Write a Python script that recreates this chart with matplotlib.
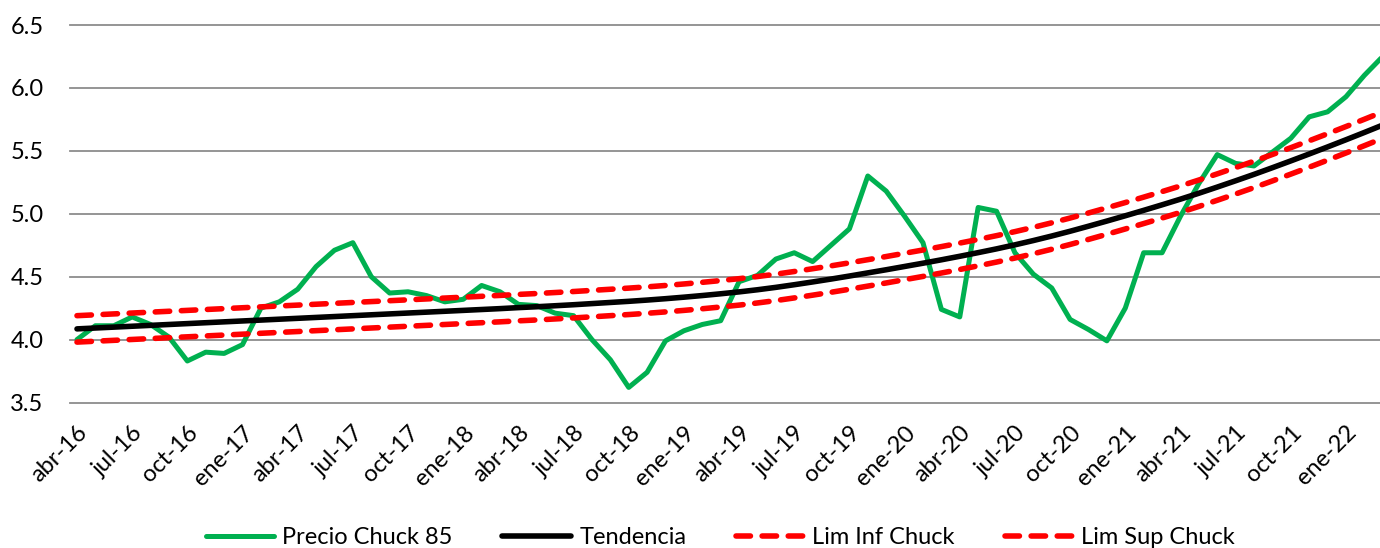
import matplotlib
matplotlib.use('Agg')
import matplotlib.pyplot as plt
from matplotlib.ticker import FormatStrFormatter

# precio mensual, abr-16 .. mar-22
precio = [4.00, 4.11, 4.11, 4.18, 4.12, 4.02, 3.83, 3.90, 3.89, 3.96,
          4.25, 4.30, 4.40, 4.58, 4.71, 4.77, 4.50, 4.37, 4.38, 4.35,
          4.30, 4.32, 4.43, 4.38, 4.28, 4.27, 4.21, 4.19, 4.00, 3.84,
          3.62, 3.74, 3.99, 4.07, 4.12, 4.15, 4.46, 4.51, 4.64, 4.69,
          4.62, 4.75, 4.88, 5.30, 5.18, 4.98, 4.77, 4.24, 4.18, 5.05,
          5.02, 4.69, 4.52, 4.41, 4.16, 4.08, 3.99, 4.25, 4.69, 4.69,
          4.98, 5.24, 5.47, 5.40, 5.38, 5.49, 5.60, 5.77, 5.81, 5.93,
          6.10, 6.25]

tendencia = [4.085, 4.092, 4.099, 4.106, 4.113, 4.120, 4.127, 4.134, 4.141, 4.148,
             4.155, 4.162, 4.169, 4.176, 4.183, 4.190, 4.197, 4.204, 4.211, 4.218,
             4.225, 4.232, 4.239, 4.246, 4.254, 4.261, 4.269, 4.277, 4.286, 4.295,
             4.304, 4.314, 4.325, 4.337, 4.350, 4.364, 4.379, 4.396, 4.415, 4.436,
             4.458, 4.481, 4.505, 4.530, 4.555, 4.581, 4.607, 4.634, 4.662, 4.691,
             4.721, 4.753, 4.787, 4.823, 4.861, 4.901, 4.942, 4.984, 5.027, 5.071,
             5.116, 5.163, 5.212, 5.262, 5.313, 5.366, 5.420, 5.475, 5.531, 5.588,
             5.646, 5.705]

lim_inf = [3.980, 3.987, 3.994, 4.001, 4.008, 4.015, 4.022, 4.029, 4.036, 4.043,
           4.050, 4.057, 4.064, 4.071, 4.078, 4.085, 4.092, 4.099, 4.106, 4.113,
           4.120, 4.127, 4.134, 4.141, 4.149, 4.156, 4.164, 4.172, 4.181, 4.190,
           4.199, 4.209, 4.220, 4.232, 4.245, 4.259, 4.274, 4.291, 4.310, 4.331,
           4.353, 4.376, 4.400, 4.425, 4.450, 4.476, 4.502, 4.529, 4.557, 4.586,
           4.616, 4.648, 4.682, 4.718, 4.756, 4.796, 4.837, 4.879, 4.922, 4.966,
           5.011, 5.058, 5.107, 5.157, 5.208, 5.261, 5.315, 5.370, 5.426, 5.483,
           5.541, 5.600]

lim_sup = [4.190, 4.197, 4.204, 4.211, 4.218, 4.225, 4.232, 4.239, 4.246, 4.253,
           4.260, 4.267, 4.274, 4.281, 4.288, 4.295, 4.302, 4.309, 4.316, 4.323,
           4.330, 4.337, 4.344, 4.351, 4.359, 4.366, 4.374, 4.382, 4.391, 4.400,
           4.409, 4.419, 4.430, 4.442, 4.455, 4.469, 4.484, 4.501, 4.520, 4.541,
           4.563, 4.586, 4.610, 4.635, 4.660, 4.686, 4.712, 4.739, 4.767, 4.796,
           4.826, 4.858, 4.892, 4.928, 4.966, 5.006, 5.047, 5.089, 5.132, 5.176,
           5.221, 5.268, 5.317, 5.367, 5.418, 5.471, 5.525, 5.580, 5.636, 5.693,
           5.751, 5.810]

etiquetas = ['abr-16', 'jul-16', 'oct-16', 'ene-17', 'abr-17', 'jul-17', 'oct-17', 'ene-18',
             'abr-18', 'jul-18', 'oct-18', 'ene-19', 'abr-19', 'jul-19', 'oct-19', 'ene-20',
             'abr-20', 'jul-20', 'oct-20', 'ene-21', 'abr-21', 'jul-21', 'oct-21', 'ene-22']

plt.rcParams['font.family'] = ['Lato', 'DejaVu Sans']

fig = plt.figure(figsize=(13.8, 5.48), dpi=100)
ax = fig.add_axes([70 / 1380, 1 - 402.5 / 548, 1310 / 1380, 377.5 / 548])

x = list(range(len(precio)))
ax.plot(x, precio, color='#00B050', lw=3.6, solid_joinstyle='round',
        solid_capstyle='round', label='Precio Chuck 85')
ax.plot(x, tendencia, color='black', lw=4, solid_joinstyle='round',
        solid_capstyle='round', label='Tendencia')
ax.plot(x, lim_inf, color='#FF0000', lw=4, dashes=(2.6, 2.1),
        dash_capstyle='round', label='Lim Inf Chuck')
ax.plot(x, lim_sup, color='#FF0000', lw=4, dashes=(2.6, 2.1),
        dash_capstyle='round', label='Lim Sup Chuck')

ax.set_xlim(-0.38, 70.85)
ax.set_ylim(3.5, 6.5)
ax.set_yticks([3.5, 4.0, 4.5, 5.0, 5.5, 6.0, 6.5])
ax.yaxis.set_major_formatter(FormatStrFormatter('%.1f'))
ax.set_xticks(range(0, len(precio), 3))
ax.set_xticklabels(etiquetas, rotation=45, ha='right', rotation_mode='anchor')
ax.tick_params(axis='both', length=0, labelsize=17, colors='black')
ax.tick_params(axis='y', pad=19)
ax.tick_params(axis='x', pad=14)

for s in ax.spines.values():
    s.set_visible(False)
ax.yaxis.grid(True, color='#8c8c8c', lw=1.3)
ax.set_axisbelow(True)
for gl in ax.get_ygridlines():
    gl.set_clip_on(False)

fig.legend(loc='center', bbox_to_anchor=(0.522, 0.019), ncol=4, frameon=False,
           fontsize=17, handlelength=2.9, handletextpad=0.35, columnspacing=2.1)

plt.savefig('out.png')
plt.close()
